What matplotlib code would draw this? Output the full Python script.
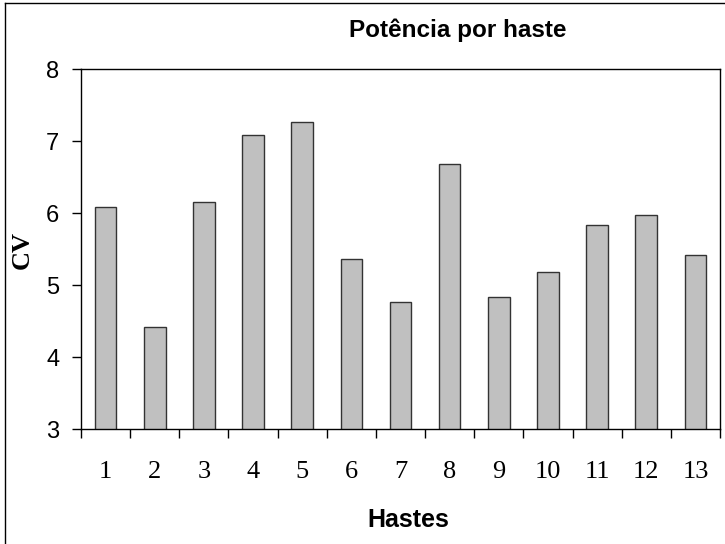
import numpy as np
import matplotlib
matplotlib.use("Agg")
import matplotlib.pyplot as plt
from matplotlib.lines import Line2D

# data
hastes = [str(i) for i in range(1, 14)]
potencia_cv = [6.08, 4.41, 6.15, 7.08, 7.26, 5.36, 4.76, 6.68, 4.83, 5.18, 5.83, 5.97, 5.41]
y_ticks = [3, 4, 5, 6, 7, 8]

W, H = 725, 544
fig = plt.figure(figsize=(W / 100, H / 100), dpi=100)
ax = fig.add_axes([81 / W, 1 - 429 / H, (720 - 81) / W, (429 - 69) / H])

x = np.arange(1, len(hastes) + 1)
ax.bar(x, potencia_cv, width=0.44, bottom=0, color="#C0C0C0",
       edgecolor="#333333", linewidth=1.0, zorder=2)

ax.set_xlim(0.5, len(hastes) + 0.5)
ax.set_ylim(y_ticks[0], y_ticks[-1])
ax.set_yticks(y_ticks)
ax.set_yticklabels([str(v) for v in y_ticks], fontfamily="Liberation Sans", fontsize=17)

# category labels centred, tick marks between categories
ax.set_xticks(x)
ax.set_xticklabels(hastes, fontfamily="Liberation Serif", fontsize=19)
ax.tick_params(axis="x", which="major", length=0, pad=23)
ax.set_xticks(np.arange(0.5, len(hastes) + 1, 1.0), minor=True)
ax.tick_params(axis="x", which="minor", length=6.5, width=1, direction="out")
ax.tick_params(axis="y", length=6.5, width=1, direction="out", pad=9)

for s in ax.spines.values():
    s.set_linewidth(1.0)
    s.set_color("black")

fig.text(458 / W, 1 - 37 / H, "Potência por haste", ha="center", va="baseline",
         fontfamily="Liberation Sans", fontweight="bold", fontsize=17.5)
fig.text(408 / W, 1 - 527 / H, "Hastes", ha="center", va="baseline",
         fontfamily="Liberation Sans", fontweight="bold", fontsize=18)
fig.text(22 / W, 1 - 250 / H, "CV", ha="center", va="center", rotation=90,
         fontfamily="Liberation Serif", fontweight="bold", fontsize=19)

# chart-area border (only left and top edges show in the reference)
fig.add_artist(Line2D([5 / W, 5 / W], [0, 1 - 2.5 / H], color="black", lw=1.0))
fig.add_artist(Line2D([5 / W, 1], [1 - 2.5 / H, 1 - 2.5 / H], color="black", lw=1.0))

fig.savefig("out.png", dpi=100)
